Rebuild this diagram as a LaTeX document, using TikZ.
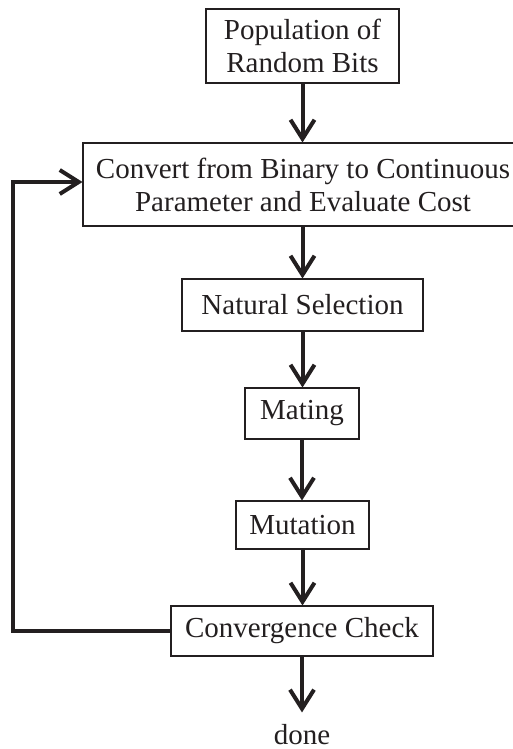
\documentclass[tikz,border=0pt]{standalone}
\usepackage{fontspec}
\setmainfont{Liberation Serif}
\usetikzlibrary{calc}
\definecolor{ink}{RGB}{35,31,32}
\begin{document}
\begin{tikzpicture}[x=1pt,y=-1pt,
  box/.style={draw=ink, line width=2.5pt, fill=white, inner sep=0pt, align=center,
    text=ink, font=\fontsize{29}{33}\selectfont},
  shaft/.style={draw=ink, line width=4pt},
  chevdown/.pic={\draw[ink, line width=4pt, line join=miter] (-12,-19) -- (0,0) -- (12,-19);},
  chevright/.pic={\draw[ink, line width=4pt, line join=miter] (-19,-12) -- (0,0) -- (-19,12);}
]
\useasboundingbox (0,0) rectangle (513,749);
\node[box, minimum width=193pt, minimum height=74pt] (pop) at (302.5,46) {Population of\\Random Bits};
\node[box, minimum width=440pt, minimum height=83pt] (conv) at (303,184.5) {Convert from Binary to Continuous\\Parameter and Evaluate Cost};
\node[box, minimum width=241pt, minimum height=52pt] (nat) at (302.5,305) {Natural Selection};
\node[box, minimum width=114pt, minimum height=51pt] (mat) at (302,413.5) {Mating};
\node[box, minimum width=133pt, minimum height=48pt] (mut) at (302.5,525) {Mutation};
\node[box, minimum width=262pt, minimum height=50pt] (chk) at (302,631) {Convergence Check};
\node[inner sep=0pt, text=ink, font=\fontsize{29}{33}\selectfont, anchor=base] (done) at (302,744) {done};
\coordinate (lc) at (13,631);
\coordinate (t1) at ($(pop.south |- conv.north)+(0,-3)$);
\coordinate (t2) at ($(nat.north)+(0,-3)$);
\coordinate (t3) at ($(nat.south |- mat.north)+(0,-3)$);
\coordinate (t4) at ($(mat.south |- mut.north)+(0,-3)$);
\coordinate (t5) at ($(mut.south |- chk.north)+(0,-3)$);
\coordinate (t6) at ($(chk.south |- done.north)+(0,-15)$);
\coordinate (t7) at ($(conv.west)+(-3,-2.5)$);

\draw[shaft] (pop.south) -- (t1); \pic at (t1) {chevdown};
\draw[shaft] (nat.north |- conv.south) -- (t2); \pic at (t2) {chevdown};
\draw[shaft] (nat.south) -- (t3); \pic at (t3) {chevdown};
\draw[shaft] (mat.south) -- (t4); \pic at (t4) {chevdown};
\draw[shaft] (mut.south) -- (t5); \pic at (t5) {chevdown};
\draw[shaft] (chk.south) -- (t6); \pic at (t6) {chevdown};
\draw[shaft] (chk.west) -- (lc) |- (t7); \pic at (t7) {chevright};
\end{tikzpicture}
\end{document}
